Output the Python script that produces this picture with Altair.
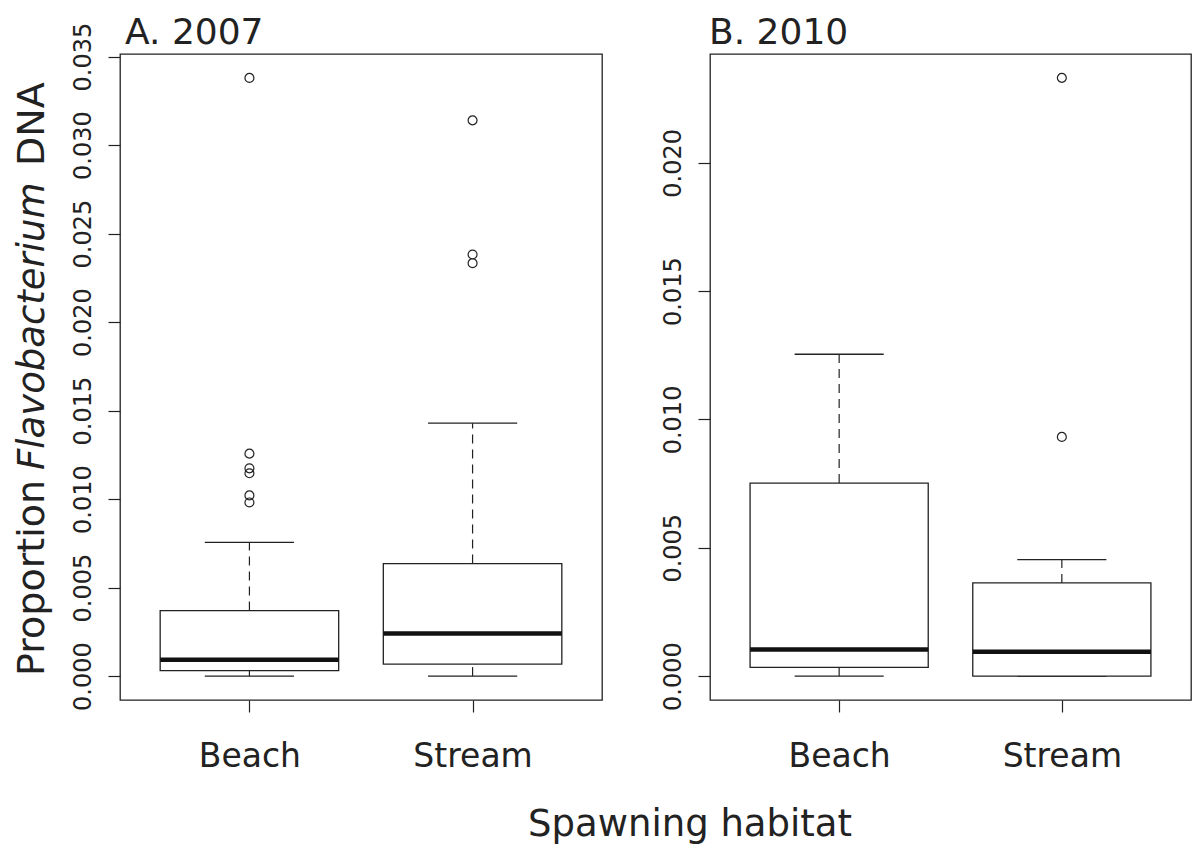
import altair as alt
import pandas as pd

# ---------------- data ----------------
groups = ["Beach", "Stream"]
positions = [1, 2]

# Panel A (2007)
a_lower = [0.0, 0.0]
a_q1 = [0.00031, 0.00068]
a_median = [0.00092, 0.00241]
a_q3 = [0.00370, 0.00636]
a_upper = [0.00756, 0.01429]
a_out_beach = [0.0338, 0.01257, 0.01174, 0.01146, 0.01021, 0.00981]
a_out_stream = [0.0314, 0.02382, 0.02333]
a_ticks = [0.000, 0.005, 0.010, 0.015, 0.020, 0.025, 0.030, 0.035]
a_domain = [-0.00135, 0.03515]

# Panel B (2010)
b_lower = [0.0, 0.0]
b_q1 = [0.00034, 0.0]
b_median = [0.00104, 0.00095]
b_q3 = [0.00752, 0.00363]
b_upper = [0.01254, 0.00454]
b_out_beach = []
b_out_stream = [0.02331, 0.00932]
b_ticks = [0.000, 0.005, 0.010, 0.015, 0.020]
b_domain = [-0.000932, 0.02424]

x_domain = [0.42, 2.58]

panel_titles = ["A. 2007", "B. 2010"]
ytitle_parts = ["Proportion", "Flavobacterium", "DNA"]
xtitle_text = "Spawning habitat"

FONT = "DejaVu Sans"
INK = "#222222"
H = 646


def text_mark(txt, x, y, size, **kw):
    return alt.Chart(pd.DataFrame({"t": [txt]})).mark_text(
        font=FONT, fontSize=size, baseline="alphabetic", color=INK, **kw
    ).encode(text="t:N", x=alt.value(x), y=alt.value(y))


def panel(title, lower, q1, med, q3, upper, out_beach, out_stream, ticks, ydom, width,
          title_dx, extra=None):
    df = pd.DataFrame({
        "group": groups, "pos": positions,
        "lower": lower, "q1": q1, "median": med, "q3": q3, "upper": upper,
    })
    df["xl"] = df["pos"] - 0.4
    df["xr"] = df["pos"] + 0.4
    df["cl"] = df["pos"] - 0.2
    df["cr"] = df["pos"] + 0.2
    out = pd.DataFrame({
        "group": ["Beach"] * len(out_beach) + ["Stream"] * len(out_stream),
        "value": list(out_beach) + list(out_stream),
    })
    out["pos"] = out["group"].map({"Beach": 1, "Stream": 2})

    xscale = alt.Scale(domain=x_domain, nice=False, zero=False)
    xaxis = alt.Axis(values=[1, 2], labelExpr="datum.value == 1 ? 'Beach' : 'Stream'",
                     tickSize=12, labelPadding=54, labelBaseline="alphabetic",
                     labelFontSize=33, domain=False, grid=False, labelFont=FONT,
                     labelColor=INK, tickColor=INK, tickWidth=1.2)
    yscale = alt.Scale(domain=ydom, nice=False, zero=False)
    yaxis = alt.Axis(values=ticks, format=".3f", labelAngle=270, labelAlign="center",
                     labelBaseline="alphabetic", tickSize=12, labelPadding=18,
                     labelFontSize=24, domain=False, grid=False, labelFont=FONT,
                     labelColor=INK, tickColor=INK, tickWidth=1.2, labelOverlap=False)

    def X(f):
        return alt.X(f, scale=xscale, axis=xaxis, title=None)

    def Y(f):
        return alt.Y(f, scale=yscale, axis=yaxis, title=None)

    base = alt.Chart(df)
    upper_whisk = base.mark_rule(color=INK, strokeWidth=1.2, strokeDash=[9, 6]).encode(
        x=X("pos:Q"), y=Y("q3:Q"), y2="upper:Q")
    lower_whisk = base.mark_rule(color=INK, strokeWidth=1.2, strokeDash=[9, 6]).encode(
        x=X("pos:Q"), y=Y("lower:Q"), y2="q1:Q")
    cap_hi = base.mark_rule(color=INK, strokeWidth=1.3).encode(
        x=X("cl:Q"), x2="cr:Q", y=Y("upper:Q"))
    cap_lo = base.mark_rule(color=INK, strokeWidth=1.3).encode(
        x=X("cl:Q"), x2="cr:Q", y=Y("lower:Q"))
    box = base.mark_rect(fill="white", stroke=INK, strokeWidth=1.3).encode(
        x=X("xl:Q"), x2="xr:Q", y=Y("q1:Q"), y2="q3:Q")
    median = base.mark_rule(color="#111111", strokeWidth=4.5).encode(
        x=X("xl:Q"), x2="xr:Q", y=Y("median:Q"))
    pts = alt.Chart(out).mark_point(shape="circle", filled=False, size=80,
                                    color=INK, strokeWidth=1.2, opacity=1).encode(
        x=X("pos:Q"), y=Y("value:Q"))

    ttl = text_mark(title, title_dx, -10, 36, align="left")

    layers = [upper_whisk, lower_whisk, cap_hi, cap_lo, box, median, pts, ttl]
    if extra:
        layers += extra
    return alt.layer(*layers).properties(width=width, height=H)


# y-axis title with an italic genus name, and the shared x title
yt1 = text_mark(ytitle_parts[0], -76, 622, 38, angle=270, align="left")
yt2 = text_mark(ytitle_parts[1], -76, 416, 37, angle=270, align="left", fontStyle="italic")
yt3 = text_mark(ytitle_parts[2], -76, 112, 38, angle=270, align="left")
xt = text_mark(xtitle_text, 570, 782, 37, align="center")

pa = panel(panel_titles[0], a_lower, a_q1, a_median, a_q3, a_upper, a_out_beach,
           a_out_stream, a_ticks, a_domain, 482, 5, extra=[yt1, yt2, yt3, xt])
pb = panel(panel_titles[1], b_lower, b_q1, b_median, b_q3, b_upper, b_out_beach,
           b_out_stream, b_ticks, b_domain, 481, -1)

chart = alt.hconcat(pa, pb, spacing=108, bounds="flush").properties(
    padding={"left": 5, "top": 6, "right": 0, "bottom": 2},
    background="white",
).configure_view(stroke=INK, strokeWidth=1.3)

chart.save("out.html", embed_options={"renderer": "svg", "actions": False})
